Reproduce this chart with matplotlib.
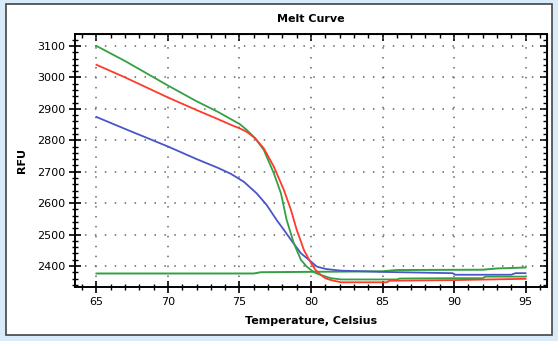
import matplotlib
matplotlib.use('Agg')
import matplotlib.pyplot as plt
from matplotlib.patches import Rectangle
from matplotlib.ticker import MultipleLocator

# melt curves (temperature, RFU)
green_t = [65, 67, 70, 72, 73.5, 74.4, 75.0, 75.5, 76.1, 76.7, 77.4, 77.9, 78.3, 78.8, 79.3, 79.7, 80.0, 80.3, 80.7, 81.4, 82.1, 86, 86.2, 90, 92, 92.2, 95]
green_f = [3100, 3052, 2974, 2924, 2890, 2867, 2852, 2833, 2806, 2769, 2695, 2631, 2546, 2472, 2419, 2398, 2387, 2378, 2371, 2361, 2357, 2357, 2360, 2361, 2361, 2366, 2366]

red_t = [65, 67, 70, 72, 73.5, 74.4, 75.0, 75.5, 76.1, 76.7, 77.4, 78.1, 78.6, 79.0, 79.5, 80.0, 80.3, 80.7, 81.0, 81.4, 82.1, 85.3, 85.5, 90, 95]
red_f = [3040, 3000, 2936, 2896, 2867, 2849, 2838, 2827, 2806, 2774, 2716, 2642, 2578, 2515, 2451, 2409, 2388, 2371, 2361, 2355, 2348, 2348, 2353, 2355, 2359]

blue_t = [65, 67, 70, 72, 73.5, 74.4, 75.3, 76.2, 76.9, 77.6, 78.1, 78.6, 79.3, 80.0, 80.4, 80.8, 81.1, 82.1, 85, 89.9, 90.1, 94, 94.3, 95]
blue_f = [2874, 2836, 2780, 2740, 2712, 2693, 2668, 2631, 2594, 2546, 2515, 2483, 2440, 2414, 2398, 2393, 2390, 2385, 2381, 2377, 2372, 2372, 2377, 2377]

base_t = [65, 70, 76, 76.5, 85, 86, 92, 93, 95]
base_f = [2376, 2376, 2376, 2380, 2383, 2387, 2388, 2392, 2395]

x_ticks = [65, 70, 75, 80, 85, 90, 95]
y_ticks = [2400, 2500, 2600, 2700, 2800, 2900, 3000, 3100]

fig = plt.figure(figsize=(5.58, 3.41), dpi=100)
fig.patch.set_facecolor('#d9ebf9')
# white inner panel
fig.patches.append(Rectangle((6/558, 6/341), 546/558, 331/341, transform=fig.transFigure,
                             facecolor='white', edgecolor='#444444', linewidth=1.2, zorder=-10))

ax = fig.add_axes([75/558, 54/341, 472/558, 253/341])
ax.set_zorder(5)
ax.plot(base_t, base_f, color='#33a043', lw=1.4)
ax.plot(blue_t, blue_f, color='#4b55c8', lw=1.3)
ax.plot(green_t, green_f, color='#33a043', lw=1.3)
ax.plot(red_t, red_f, color='#ff3a2a', lw=1.3)

ax.set_xlim(63.5, 96.5)
ax.set_ylim(2333, 3138)
ax.set_xticks(x_ticks)
ax.set_yticks(y_ticks)
ax.xaxis.set_minor_locator(MultipleLocator(1))
ax.yaxis.set_minor_locator(MultipleLocator(20))
ax.grid(True, which='major', color='#666666', linestyle=(0, (1, 5.5)), linewidth=1.1)
ax.tick_params(which='major', direction='inout', length=8, width=1.2, labelsize=8, pad=3, colors='black')
ax.tick_params(which='minor', direction='inout', length=4, width=1)
for s in ax.spines.values():
    s.set_linewidth(1.4)

# top and right: inward ticks only
top = ax.secondary_xaxis('top')
top.set_xticks(x_ticks)
top.xaxis.set_minor_locator(MultipleLocator(1))
top.tick_params(which='major', direction='in', length=5, width=1.2, labeltop=False)
top.tick_params(which='minor', direction='in', length=3, width=1)
right = ax.secondary_yaxis('right')
right.set_yticks(y_ticks)
right.yaxis.set_minor_locator(MultipleLocator(20))
right.tick_params(which='major', direction='in', length=5, width=1.2, labelright=False)
right.tick_params(which='minor', direction='in', length=3, width=1)

ax.set_title('Melt Curve', fontsize=8, fontweight='bold', pad=9)
ax.set_xlabel('Temperature, Celsius', fontsize=8, fontweight='bold', labelpad=7)
ax.set_ylabel('RFU', fontsize=8, fontweight='bold', labelpad=7)

fig.savefig('out.png', dpi=100, facecolor=fig.get_facecolor())
